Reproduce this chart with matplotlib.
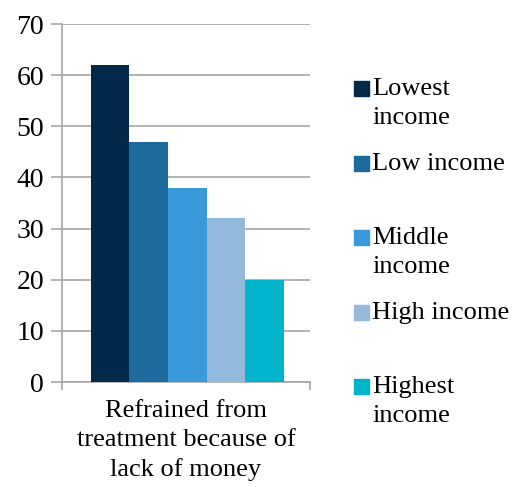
import matplotlib
matplotlib.use("Agg")
import matplotlib.pyplot as plt
from matplotlib.patches import Rectangle

plt.rcParams["font.family"] = ["Liberation Serif", "DejaVu Serif"]

# data
category = "Refrained from\ntreatment because of\nlack of money"
groups = ["Lowest\nincome", "Low income", "Middle\nincome", "High income", "Highest\nincome"]
values = [62, 47, 38, 32, 20]
colors = ["#03294a", "#1c6a9e", "#3899db", "#95b9dd", "#00b4cc"]
yticks = [0, 10, 20, 30, 40, 50, 60, 70]

fig = plt.figure(figsize=(5.15, 4.87), dpi=100)
ax = fig.add_axes([62 / 515, 105 / 487, 248 / 515, 358 / 487])

bar_w = 0.156
for i, (v, c) in enumerate(zip(values, colors)):
    ax.bar((i - 2) * bar_w + 0.005, v, width=bar_w, color=c, zorder=3)

ax.set_xlim(-0.5, 0.5)
ax.set_ylim(0, 70)
ax.set_yticks(yticks)
ax.yaxis.grid(True, color="#a6a6a6", linewidth=1.2, zorder=0)
ax.set_axisbelow(True)

for s in ["top", "right"]:
    ax.spines[s].set_visible(False)
for s in ["left", "bottom"]:
    ax.spines[s].set_color("#a6a6a6")
    ax.spines[s].set_linewidth(1.2)

ax.tick_params(axis="y", direction="out", length=8, color="#a6a6a6", width=1.2,
               labelsize=20, pad=5)
ax.set_xticks([-0.5, 0.5])
ax.set_xticklabels(["", ""])
ax.tick_params(axis="x", direction="out", length=6, color="#a6a6a6", width=1.2)
ax.text(0.5, -0.05, category, transform=ax.transAxes, ha="center", va="top",
        fontsize=19, linespacing=1.4)

# legend drawn by hand so each entry's top line lines up with its marker
for i, (lab, c) in enumerate(zip(groups, colors)):
    ytop = 1 - (78 + i * 74.5) / 487
    fig.patches.append(Rectangle((354 / 515, ytop - 18 / 487), 15 / 515, 15 / 487,
                                 transform=fig.transFigure, color=c))
    fig.text(372 / 515, ytop, lab, ha="left", va="top", fontsize=19, linespacing=1.4)

fig.savefig("out.png", dpi=100)
